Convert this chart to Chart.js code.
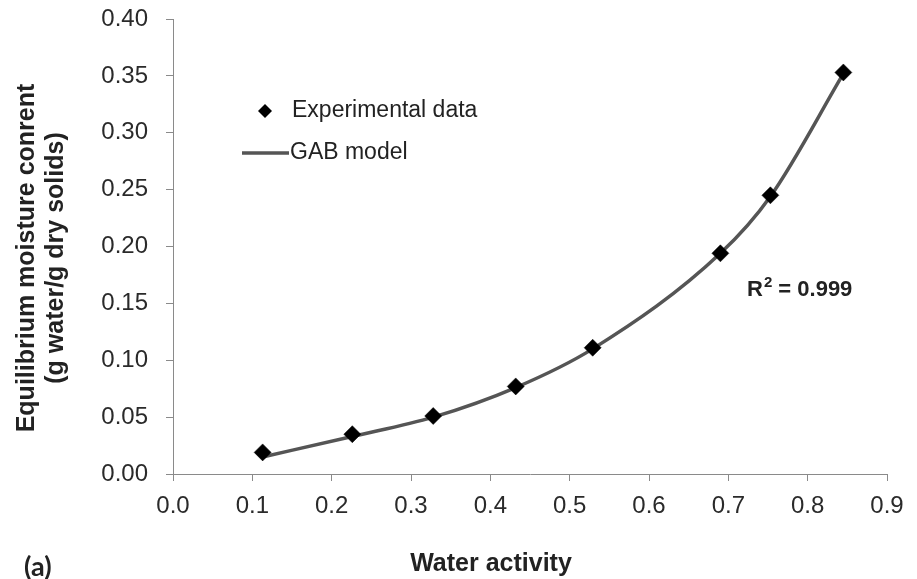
<!DOCTYPE html>
<html>
<head>
<meta charset="utf-8">
<script src="https://cdn.jsdelivr.net/npm/chart.js@4"></script>
<style>
  html, body { margin: 0; padding: 0; background: #fff; }
  #wrap { width: 917px; height: 579px; }
</style>
</head>
<body>
<div id="wrap"><canvas id="myChart" width="917" height="579"></canvas></div>
<script>
// Sorption isotherm data
const waterActivity = [0.113, 0.226, 0.328, 0.432, 0.529, 0.690, 0.753, 0.845];
const expMoisture = [0.019, 0.035, 0.051, 0.077, 0.111, 0.194, 0.245, 0.353];
const gabMoisture = [0.015, 0.033, 0.050, 0.076, 0.110, 0.194, 0.244, 0.352];

const xTicks = [0.0, 0.1, 0.2, 0.3, 0.4, 0.5, 0.6, 0.7, 0.8, 0.9];
const yTicks = [0.00, 0.05, 0.10, 0.15, 0.20, 0.25, 0.30, 0.35, 0.40];

const xTitle = 'Water activity';
const yTitle = ['Equilibrium moisture conrent', '(g water/g dry solids)'];
const legendLabels = ['Experimental data', 'GAB model'];
const panelLabel = '(a)';
const r2Value = '0.999';

const axisColor = '#8a8a8a';
const textColor = '#222';
const lineColor = '#555';

let expPoints = waterActivity.map((x, i) => ({ x: x, y: expMoisture[i] }));
let gabPoints = waterActivity.map((x, i) => ({ x: x, y: gabMoisture[i] }));

// Titles, legend and annotations drawn on top of the chart
const extras = {
  id: 'extras',
  afterDraw(chart) {
    const ctx = chart.ctx;
    ctx.save();
    ctx.fillStyle = textColor;

    // y title, two rotated lines
    ctx.save();
    ctx.translate(0, 258);
    ctx.rotate(-Math.PI / 2);
    ctx.font = 'bold 25px "Liberation Sans", Arial, sans-serif';
    ctx.textAlign = 'center';
    ctx.textBaseline = 'middle';
    ctx.fillText(yTitle[0], 0, 27);
    ctx.fillText(yTitle[1], 0, 56);
    ctx.restore();

    // x title
    ctx.font = 'bold 25px "Liberation Sans", Arial, sans-serif';
    ctx.textAlign = 'center';
    ctx.textBaseline = 'middle';
    ctx.fillText(xTitle, 491, 564);

    // panel label
    ctx.font = 'bold 27px Lato, sans-serif';
    ctx.textAlign = 'left';
    ctx.fillText(panelLabel, 24, 567);

    // legend
    ctx.fillStyle = '#000';
    ctx.beginPath();
    ctx.moveTo(265, 111 - 7);
    ctx.lineTo(265 + 7, 111);
    ctx.lineTo(265, 111 + 7);
    ctx.lineTo(265 - 7, 111);
    ctx.closePath();
    ctx.fill();
    ctx.strokeStyle = lineColor;
    ctx.lineWidth = 3.5;
    ctx.beginPath();
    ctx.moveTo(242, 153);
    ctx.lineTo(289, 153);
    ctx.stroke();
    ctx.fillStyle = textColor;
    ctx.font = '23px "Liberation Sans", Arial, sans-serif';
    ctx.textAlign = 'left';
    ctx.fillText(legendLabels[0], 292, 111);
    ctx.fillText(legendLabels[1], 290, 153);

    // R squared
    ctx.font = 'bold 22px "Liberation Sans", Arial, sans-serif';
    ctx.textBaseline = 'alphabetic';
    let rx = 747, ry = 296;
    ctx.fillText('R', rx, ry);
    rx += ctx.measureText('R').width + 1;
    ctx.font = 'bold 15px "Liberation Sans", Arial, sans-serif';
    ctx.fillText('2', rx, ry - 9);
    rx += ctx.measureText('2').width;
    ctx.font = 'bold 22px "Liberation Sans", Arial, sans-serif';
    ctx.fillText(' = ' + r2Value, rx, ry);
    ctx.restore();
  }
};

var context = document.getElementById('myChart').getContext('2d');
var myChart = new Chart(context, {
  type: 'scatter',
  data: {
    datasets: [{
      label: legendLabels[0],
      data: expPoints,
      pointStyle: 'rectRot',
      pointRadius: 8.5,
      backgroundColor: '#000',
      borderColor: '#000',
      borderWidth: 0.5
    }, {
      label: legendLabels[1],
      data: gabPoints,
      showLine: true,
      cubicInterpolationMode: 'monotone',
      pointRadius: 0,
      borderColor: lineColor,
      borderWidth: 3.5,
      backgroundColor: lineColor
    }]
  },
  options: {
    responsive: false,
    animation: false,
    events: [],
    layout: { padding: { top: 19, right: 30, left: 0, bottom: 0 } },
    plugins: { legend: { display: false }, tooltip: { enabled: false } },
    scales: {
      x: {
        type: 'linear',
        min: 0,
        max: 0.9,
        afterBuildTicks: (scale) => { scale.ticks = xTicks.map(v => ({ value: v })); },
        afterFit: (scale) => {
          scale.height = 105;
          scale.paddingLeft = 0;
          scale.paddingRight = 0;
        },
        border: { color: axisColor, width: 1 },
        grid: { drawOnChartArea: false, drawTicks: true, tickLength: 7, color: axisColor },
        ticks: {
          color: '#2a2a2a',
          padding: 11,
          font: { family: '"Liberation Sans", Arial, sans-serif', size: 24 },
          callback: (v) => Number(v).toFixed(1)
        }
      },
      y: {
        type: 'linear',
        min: 0,
        max: 0.4,
        afterBuildTicks: (scale) => { scale.ticks = yTicks.map(v => ({ value: v })); },
        afterFit: (scale) => {
          scale.width = 173;
          scale.paddingTop = 0;
          scale.paddingBottom = 0;
        },
        border: { color: axisColor, width: 1 },
        grid: { drawOnChartArea: false, drawTicks: true, tickLength: 7, color: axisColor },
        ticks: {
          color: '#2a2a2a',
          padding: 18,
          font: { family: '"Liberation Sans", Arial, sans-serif', size: 24 },
          callback: (v) => Number(v).toFixed(2)
        }
      }
    }
  },
  plugins: [extras]
});
</script>
</body>
</html>
